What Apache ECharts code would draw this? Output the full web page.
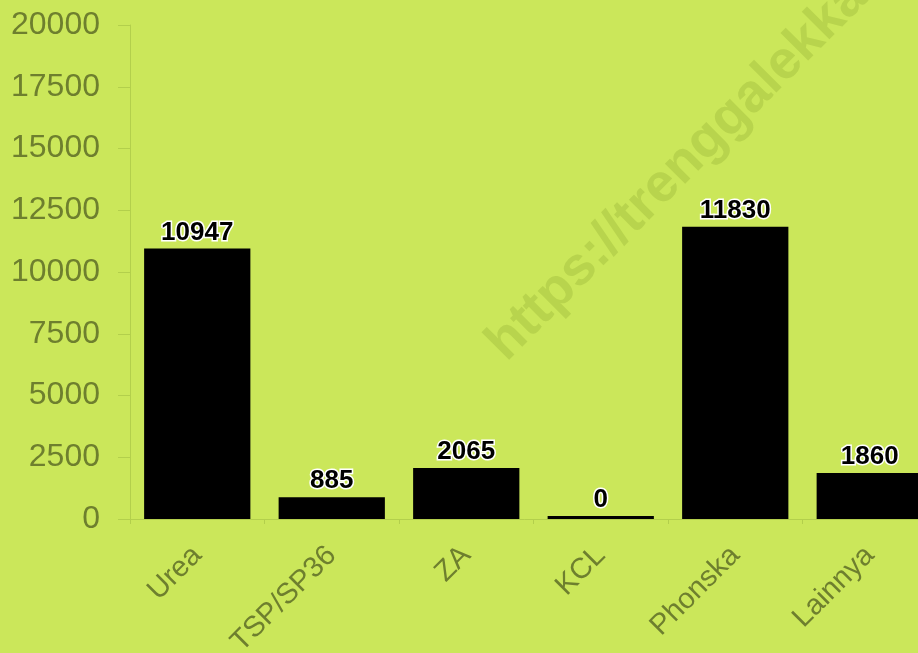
<!DOCTYPE html>
<html>
<head>
<meta charset="utf-8">
<script src="https://cdn.jsdelivr.net/npm/echarts@6/dist/echarts.min.js"></script>
<style>
html,body{margin:0;padding:0;background:#cbe75a;overflow:hidden;}
#c{width:918px;height:653px;}
</style>
</head>
<body>
<div id="c"></div>
<script>
const categories = ['Urea', 'TSP/SP36', 'ZA', 'KCL', 'Phonska', 'Lainnya'];
const values = [10947, 885, 2065, 0, 11830, 1860];
const yTicks = [0, 2500, 5000, 7500, 10000, 12500, 15000, 17500, 20000];
const watermark = 'https://trenggalekkab.go.id';

const chart = echarts.init(document.getElementById('c'), null, {renderer: 'canvas'});
const axisColor = '#b3cf4c';
const labelColor = '#6e7f2e';
const font = 'Arial, "Liberation Sans", sans-serif';
chart.setOption({
  backgroundColor: '#cbe75a',
  animation: false,
  graphic: [{
    type: 'text',
    x: 515, y: 371,
    rotation: Math.PI / 4,
    z: -10,
    silent: true,
    style: {
      text: watermark,
      x: 0, y: 0,
      align: 'left',
      verticalAlign: 'bottom',
      font: 'bold 54px Arial, "Liberation Sans", sans-serif',
      fill: '#b8d44d'
    }
  }],
  grid: {left: 130, top: 25, bottom: 134, right: -19, containLabel: false, outerBoundsMode: 'none'},
  xAxis: {
    type: 'category',
    data: categories,
    axisLine: {show: true, lineStyle: {color: axisColor, width: 1}},
    axisTick: {show: true, length: 5, lineStyle: {color: axisColor}},
    axisLabel: {
      rotate: 45,
      color: labelColor,
      fontSize: 29,
      fontFamily: font,
      margin: 32
    }
  },
  yAxis: {
    type: 'value',
    min: yTicks[0],
    max: yTicks[yTicks.length - 1],
    interval: yTicks[1] - yTicks[0],
    axisLine: {show: true, lineStyle: {color: axisColor, width: 1}},
    axisTick: {show: true, length: 12, lineStyle: {color: axisColor}},
    splitLine: {show: false},
    axisLabel: {
      color: labelColor,
      fontSize: 32,
      fontFamily: font,
      margin: 30,
      formatter: v => String(v)
    }
  },
  series: [{
    type: 'bar',
    data: values,
    barWidth: '79%',
    barMinHeight: 3,
    itemStyle: {color: '#000000'},
    label: {
      show: true,
      position: 'top',
      distance: 3,
      color: '#000000',
      fontSize: 26,
      fontWeight: 'bold',
      fontFamily: font,
      textBorderColor: '#ffffff',
      textBorderWidth: 3
    }
  }]
});
</script>
</body>
</html>
